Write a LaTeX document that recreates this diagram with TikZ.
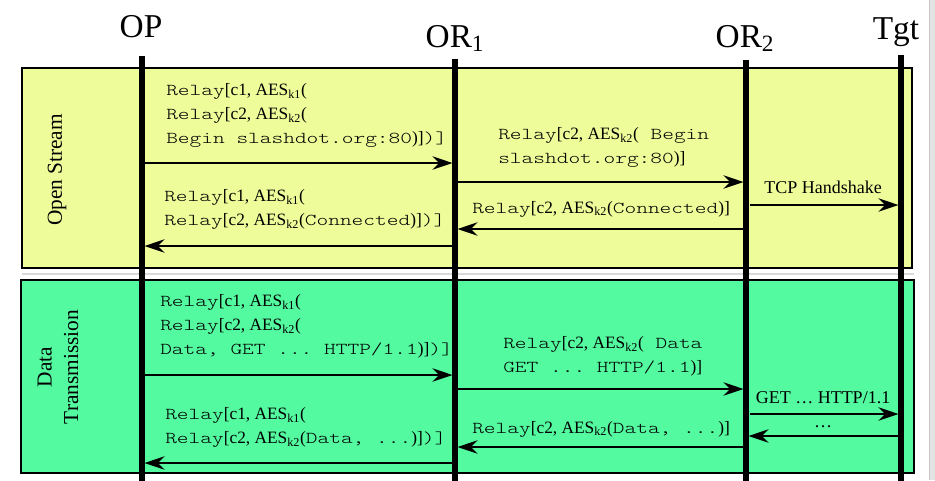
\documentclass[tikz,border=0pt]{standalone}
\usepackage{fontspec}
\setmainfont{Liberation Serif}
\setmonofont{lmmonolt10-regular}[Extension=.otf, Scale=0.96, FakeStretch=1.34]
\usetikzlibrary{arrows.meta}

\definecolor{openfill}{RGB}{238,253,153}
\definecolor{datafill}{RGB}{84,250,160}

\newcommand\rly{\texttt{Relay}}
\newcommand\aes[1]{AES\textsubscript{#1}}

\tikzset{
  lifeline/.style={line width=3.8pt},
  msg/.style={line width=2.1pt, -{Stealth[length=15pt,width=10pt,inset=5pt]}},
  phase/.style={draw, line width=1.8pt},
  actor/.style={font=\fontsize{25}{30}\selectfont, anchor=base, inner sep=0pt},
  lbl/.style={font=\fontsize{13}{18}\selectfont, inner sep=0pt, align=left},
  note/.style={font=\fontsize{13.5}{18}\selectfont, inner sep=0pt, anchor=base},
  phaselbl/.style={font=\fontsize{16}{20}\selectfont, rotate=90, align=center, inner sep=0pt},
}

\begin{document}
\begin{tikzpicture}[x=0.75pt, y=-0.75pt]
\useasboundingbox (0,0) rectangle (935,480);

% window edge and separator
\fill[gray!22] (929,0) rectangle (935,480);
\draw[gray!45, line width=0.8pt] (929.5,0) -- (929.5,480);
\draw[gray!30, line width=1.2pt] (22,274) -- (914,274);

% phase boxes
\draw[phase, fill=openfill] (22,68) rectangle (912,268);
\draw[phase, fill=datafill] (21,280) rectangle (914,473);
\node[phaselbl] (osl) at (57,170) {Open Stream};
\node[phaselbl] (dtl) at (58,367) {Data\\Transmission};

% participants
\node[actor] (op)  at (141,37) {OP};
\node[actor] (or1) at (455,47) {OR\textsubscript{1}};
\node[actor] (or2) at (745,47) {OR\textsubscript{2}};
\node[actor] (tgt) at (896,39) {Tgt};

\coordinate (opT) at (142,56);  \coordinate (opB) at (142,482);
\coordinate (r1T) at (455,59);  \coordinate (r1B) at (455,482);
\coordinate (r2T) at (746,60);  \coordinate (r2B) at (746,482);
\coordinate (tgT) at (901,55);  \coordinate (tgB) at (901,482);
\draw[lifeline] (opT) -- (opB);
\draw[lifeline] (r1T) -- (r1B);
\draw[lifeline] (r2T) -- (r2B);
\draw[lifeline] (tgT) -- (tgB);

% message end points
\foreach \n/\x/\y in {
  a1s/142/163, a1e/452.5/163,
  a2s/455/182, a2e/743.5/182,
  a3s/750/205, a3e/898.5/205,
  a4s/746/229, a4e/457.5/229,
  a5s/455/246, a5e/144.5/246,
  b1s/142/375, b1e/452.5/375,
  b2s/455/389, b2e/743.5/389,
  b3s/750/414, b3e/898.5/414,
  b4s/901/436, b4e/748.5/436,
  b5s/746/447, b5e/457.5/447,
  b6s/455/463, b6e/144.5/463}
  \coordinate (\n) at (\x,\y);

% open stream
\draw[msg] (a1s) -- (a1e);
\draw[msg] (a2s) -- (a2e);
\draw[msg] (a3s) -- (a3e);
\draw[msg] (a4s) -- (a4e);
\draw[msg] (a5s) -- (a5e);

\node[lbl, anchor=north west] (m1) at (166,83)
  {\rly[c1, \aes{k1}(\\\rly[c2, \aes{k2}(\\\texttt{Begin slashdot.org:80})]\texttt{)]}};
\node[lbl, anchor=north west] (m2) at (498,127)
  {\rly[c2, \aes{k2}(\texttt{ Begin}\\\texttt{slashdot.org:80})]};
\node[note] (m3) at (823,193) {TCP Handshake};
\node[lbl, anchor=base west] (m4) at (472,213)
  {\rly[c2, \aes{k2}(\texttt{Connected})]};
\node[lbl, anchor=north west] (m5) at (164,189)
  {\rly[c1, \aes{k1}(\\\rly[c2, \aes{k2}(\texttt{Connected})]\texttt{)]}};

% data transmission
\draw[msg] (b1s) -- (b1e);
\draw[msg] (b2s) -- (b2e);
\draw[msg] (b3s) -- (b3e);
\draw[msg] (b4s) -- (b4e);
\draw[msg] (b5s) -- (b5e);
\draw[msg] (b6s) -- (b6e);

\node[lbl, anchor=north west] (d1) at (160,294)
  {\rly[c1, \aes{k1}(\\\rly[c2, \aes{k2}(\\\texttt{Data, GET ... HTTP/1.1})]\texttt{)]}};
\node[lbl, anchor=north west] (d2) at (503,336)
  {\rly[c2, \aes{k2}(\texttt{ Data}\\\texttt{GET ... HTTP/1.1})]};
\node[note] (d3) at (823,403) {GET \ldots{} HTTP/1.1};
\node[note] (d4) at (823,427) {\ldots};
\node[lbl, anchor=base west] (d5) at (472,433)
  {\rly[c2, \aes{k2}(\texttt{Data, ...})]};
\node[lbl, anchor=north west] (d6) at (165,407)
  {\rly[c1, \aes{k1}(\\\rly[c2, \aes{k2}(\texttt{Data, ...})]\texttt{)]}};
\end{tikzpicture}
\end{document}
